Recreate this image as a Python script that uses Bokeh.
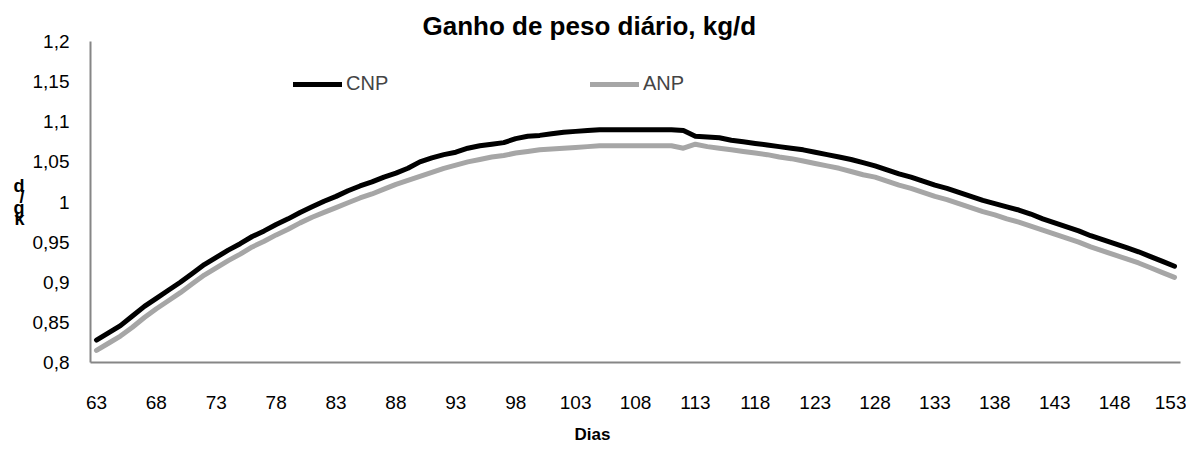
from bokeh.plotting import figure
from bokeh.models import FixedTicker, CustomJSTickFormatter, Range1d, Title
from bokeh.embed import file_html
from bokeh.resources import INLINE

# ---- data ----
days = list(range(63, 154))
cnp = [0.828, 0.837, 0.846, 0.858, 0.870, 0.880, 0.890, 0.900, 0.911, 0.922,
       0.931, 0.940, 0.948, 0.957, 0.964, 0.972, 0.979, 0.987, 0.994, 1.001,
       1.007, 1.014, 1.020, 1.025, 1.031, 1.036, 1.042, 1.050, 1.055, 1.059,
       1.062, 1.067, 1.070, 1.072, 1.074, 1.079, 1.082, 1.083, 1.085, 1.087,
       1.088, 1.089, 1.090, 1.090, 1.090, 1.090, 1.090, 1.090, 1.090, 1.089,
       1.082, 1.081, 1.080, 1.077, 1.075, 1.073, 1.071, 1.069, 1.067, 1.065,
       1.062, 1.059, 1.056, 1.053, 1.049, 1.045, 1.040, 1.035, 1.031, 1.026,
       1.021, 1.017, 1.012, 1.007, 1.002, 0.998, 0.994, 0.990, 0.985, 0.979,
       0.974, 0.969, 0.964, 0.958, 0.953, 0.948, 0.943, 0.938, 0.932, 0.926,
       0.920]
anp = [0.815, 0.824, 0.833, 0.844, 0.856, 0.867, 0.877, 0.887, 0.898, 0.909,
       0.918, 0.927, 0.935, 0.944, 0.951, 0.959, 0.966, 0.974, 0.981, 0.987,
       0.993, 0.999, 1.005, 1.010, 1.016, 1.022, 1.027, 1.032, 1.037, 1.042,
       1.046, 1.050, 1.053, 1.056, 1.058, 1.061, 1.063, 1.065, 1.066, 1.067,
       1.068, 1.069, 1.070, 1.070, 1.070, 1.070, 1.070, 1.070, 1.070, 1.067,
       1.072, 1.069, 1.067, 1.065, 1.063, 1.061, 1.059, 1.056, 1.054, 1.051,
       1.048, 1.045, 1.042, 1.038, 1.034, 1.031, 1.026, 1.021, 1.017, 1.012,
       1.007, 1.003, 0.998, 0.993, 0.988, 0.984, 0.979, 0.975, 0.970, 0.965,
       0.960, 0.955, 0.950, 0.944, 0.939, 0.934, 0.929, 0.924, 0.918, 0.912,
       0.906]
x_ticks = [63, 68, 73, 78, 83, 88, 93, 98, 103, 108, 113, 118, 123, 128, 133, 138, 143, 148, 153]
y_ticks = [0.8, 0.85, 0.9, 0.95, 1.0, 1.05, 1.1, 1.15, 1.2]
series_names = ["CNP", "ANP"]
title_text = "Ganho de peso diário, kg/d"
x_title = "Dias"
y_title = "d\n/\ng\nk"

FONT = "Liberation Sans"
AXIS_GRAY = "#868686"
GRAY = "#A6A6A6"

p = figure(width=1186, height=454, output_backend="svg", toolbar_location=None,
           x_range=Range1d(62.5, 153.5), y_range=Range1d(0.8, 1.2),
           min_border_left=90, min_border_right=6, min_border_top=41, min_border_bottom=91)
p.outline_line_color = None
p.grid.visible = False
p.background_fill_color = "white"
p.border_fill_color = "white"

p.line(days, anp, line_color=GRAY, line_width=5, line_join="round", line_cap="round",
       legend_label=series_names[1])
p.line(days, cnp, line_color="black", line_width=5, line_join="round", line_cap="round",
       legend_label=series_names[0])

# title
p.title.text = title_text
p.title.align = "left"
p.title.offset = 332
p.title.standoff = 2
p.title.text_font = FONT
p.title.text_font_size = "26px"
p.title.text_font_style = "bold"
p.title.text_color = "black"

# axes
for ax in (p.xaxis[0], p.yaxis[0]):
    ax.axis_line_color = AXIS_GRAY
    ax.axis_line_width = 2
    ax.major_tick_line_color = None
    ax.minor_tick_line_color = None
    ax.major_tick_out = 0
    ax.major_tick_in = 0
    ax.major_label_text_font = FONT
    ax.major_label_text_font_size = "19px"
    ax.major_label_text_color = "black"
    ax.axis_label_text_font = FONT
    ax.axis_label_text_font_style = "bold"
    ax.axis_label_text_color = "black"

p.xaxis.ticker = FixedTicker(ticks=x_ticks)
p.xaxis.major_label_standoff = 33

# x-axis title placed below the axis, centred on the chart area
p.add_layout(Title(text=x_title, align="left", offset=484, standoff=22,
                   text_font=FONT, text_font_size="17px", text_font_style="bold",
                   text_color="black"), "below")

p.yaxis.ticker = FixedTicker(ticks=y_ticks)
p.yaxis.major_label_standoff = 21
p.yaxis.formatter = CustomJSTickFormatter(
    code="var s = (Math.round(tick*100)/100).toString(); return s.replace('.', ',');")
p.yaxis.axis_label = y_title
p.yaxis.axis_label_orientation = "horizontal"
p.yaxis.axis_label_text_font_size = "18px"
p.yaxis.axis_label_text_line_height = 0.55
p.yaxis.axis_label_standoff = 5

# legend
lg = p.legend[0]
lg.orientation = "horizontal"
lg.items = [lg.items[1], lg.items[0]]
lg.location = (203, 267)
lg.padding = 0
lg.margin = 0
lg.spacing = 0
lg.glyph_width = 49
lg.glyph_height = 20
lg.label_standoff = 4
lg.label_width = 244
lg.label_text_font = FONT
lg.label_text_font_size = "20px"
lg.border_line_alpha = 0
lg.background_fill_alpha = 0

open("out.html", "w").write(file_html(p, INLINE))
